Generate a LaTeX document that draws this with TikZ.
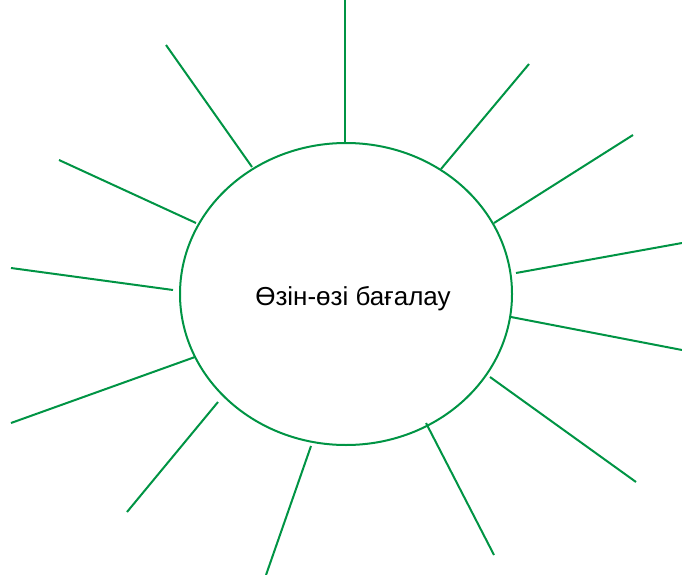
\documentclass[tikz,border=0pt]{standalone}
\usepackage{fontspec}
\setmainfont{Liberation Sans}
\usepackage{xcolor}
\usepackage{tikz}
\usetikzlibrary{shapes.geometric}
\definecolor{sungreen}{RGB}{0, 148, 68}

\begin{document}
\begin{tikzpicture}[
  x=1pt, y=-1pt,
  sun/.style={ellipse, draw=sungreen, line width=2pt, inner sep=0pt,
              minimum width=332pt, minimum height=302pt},
  label/.style={inner sep=0pt, font=\fontsize{26}{30}\selectfont},
  ray/.style={draw=sungreen, line width=2pt}
]
  \useasboundingbox (0,0) rectangle (682,575);

  \node[sun] (self) at (346,294) {};
  \node[label] (title) at (353,299) {Өзін-өзі бағалау};

  % rays: outer end / inner end
  \foreach \i/\ox/\oy/\ix/\iy in {
      1/345/0/345/143,     2/166/45/252/167,    3/529/64/441/169,
      4/59/160/196/223,    5/633/135/494/223,   6/11/268/173/290,
      7/682/243/516/273,   8/682/350/511/317,   9/11/423/195/357,
      10/636/482/490/377,  11/127/512/218/402,  12/494/555/426/423,
      13/266/575/311/446} {
    \coordinate (out\i) at (\ox,\oy);
    \coordinate (in\i) at (\ix,\iy);
    \draw[ray] (out\i) -- (in\i);
  }
\end{tikzpicture}
\end{document}
